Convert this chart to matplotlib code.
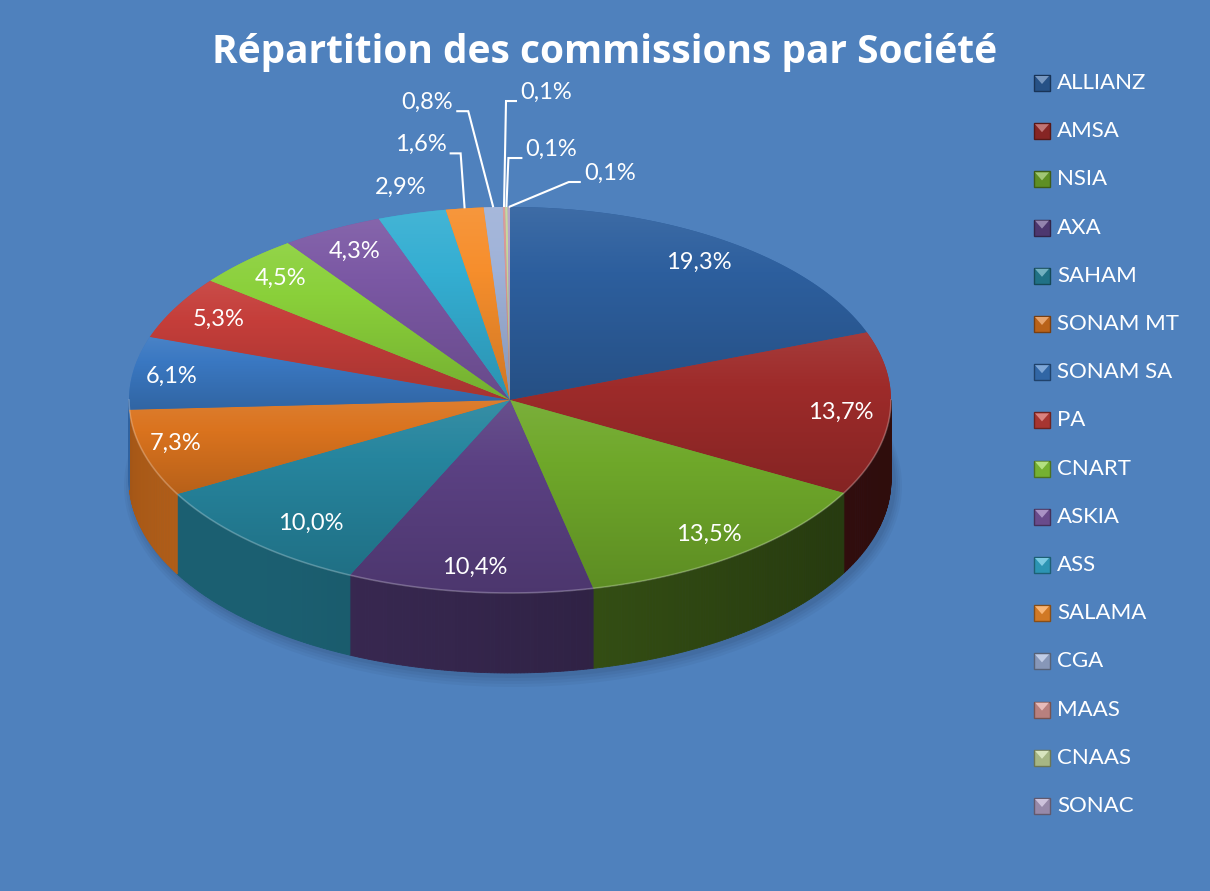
import numpy as np
import matplotlib
matplotlib.use("Agg")
import matplotlib.pyplot as plt
from matplotlib.patches import Polygon, Rectangle, Ellipse
from matplotlib import colors as mcolors

# ---------------- data ----------------
companies = ["ALLIANZ", "AMSA", "NSIA", "AXA", "SAHAM", "SONAM MT", "SONAM SA", "PA",
             "CNART", "ASKIA", "ASS", "SALAMA", "CGA", "MAAS", "CNAAS", "SONAC"]
shares = [19.3, 13.7, 13.5, 10.4, 10.0, 7.3, 6.1, 5.3, 4.5, 4.3, 2.9, 1.6, 0.8, 0.1, 0.1, 0.1]
slice_colors = ["#2D5F9E", "#9E2B2A", "#6FA82A", "#5B4183", "#26859E", "#DA731E",
                "#3A78C2", "#C53E3A", "#8AD03A", "#7B58A4", "#34AED2", "#F68E2C",
                "#9FB2D8", "#D99694", "#C3D69B", "#B2A1C7"]
title = "Répartition des commissions par Société"

# ---------------- layout ----------------
BG = "#4F81BD"
W, H = 1210, 891
CX, CY, A, B, DEPTH = 510, 400, 381, 193, 80
FONT = "Lato"

fig = plt.figure(figsize=(W / 100, H / 100), dpi=100)
fig.patch.set_facecolor(BG)
ax = fig.add_axes([0, 0, 1, 1])
ax.set_facecolor(BG)


def pt(t_deg, r=1.0, dz=0.0):
    t = np.radians(t_deg)
    return CX + A * r * np.cos(t), CY - B * r * np.sin(t) + dz


def shade(c, f):
    rgb = np.array(mcolors.to_rgb(c))
    if f <= 1:
        return tuple(rgb * f)
    return tuple(rgb + (1 - rgb) * (f - 1))


total = sum(shares)
cum = np.concatenate([[0], np.cumsum(shares)])
t_start = 90 - 360 * cum[:-1] / total
t_end = 90 - 360 * cum[1:] / total
t_mid = (t_start + t_end) / 2

# soft shadow under the pie
for k, al in enumerate([0.05, 0.05, 0.06, 0.07]):
    e = Ellipse((CX + 3, CY + DEPTH + 6 - k), 2 * A + 16 - 4 * k, 2 * B + 16 - 4 * k,
                facecolor="#1a2a45", edgecolor="none", alpha=al, zorder=1)
    ax.add_patch(e)

# side (extruded) faces: visible where sin(t) < 0
for i in range(len(shares)):
    ts = np.linspace(t_start[i], t_end[i], max(3, int(abs(t_start[i] - t_end[i]) * 2) + 2))
    for j in range(len(ts) - 1):
        tm = (ts[j] + ts[j + 1]) / 2
        if np.sin(np.radians(tm)) >= 0:
            continue
        f = 0.55 - 0.25 * np.cos(np.radians(tm))
        frac = (ts[j] - t_start[i]) / (t_end[i] - t_start[i]) if t_end[i] != t_start[i] else 0
        f *= 1.05 - 0.12 * frac
        x0, y0 = pt(ts[j])
        x1, y1 = pt(ts[j + 1])
        col = shade(slice_colors[i], f)
        ax.add_patch(Polygon([(x0, y0), (x1, y1), (x1, y1 + DEPTH), (x0, y0 + DEPTH)],
                             closed=True, facecolor=col, edgecolor=col, lw=0.6, zorder=2))

# top faces with vertical gradient
for i in range(len(shares)):
    ts = np.linspace(t_start[i], t_end[i], max(3, int(abs(t_start[i] - t_end[i]) * 2) + 2))
    xs, ys = pt(ts)
    verts = [(CX, CY)] + list(zip(xs, ys))
    poly = Polygon(verts, closed=True, facecolor=slice_colors[i], edgecolor="none", zorder=3)
    ax.add_patch(poly)
    vy = np.array([v[1] for v in verts])
    vx = np.array([v[0] for v in verts])
    y0, y1 = vy.min(), vy.max()
    x0, x1 = vx.min(), vx.max()
    n = 64
    grad = np.array([shade(slice_colors[i], f) for f in np.linspace(1.08, 0.84, n)])
    img = grad.reshape(n, 1, 3)
    im = ax.imshow(img, extent=(x0 - 1, x1 + 1, y1 + 1, y0 - 1), origin="upper",
                   aspect="auto", interpolation="bilinear", zorder=3.1)
    im.set_clip_path(poly)

# light rim along the front top edge
tt = np.linspace(180, 360, 200)
rx, ry = pt(tt)
ax.plot(rx, ry, color="white", alpha=0.25, lw=1.2, zorder=4)

# ---------------- value labels ----------------
label_txt = [f"{v:.1f}".replace(".", ",") + "%" for v in shares]
LBL_SIZE = 17
nudge = {4: (26, 0), 5: (-16, -3), 6: (-10, 0)}
for i in range(len(shares)):
    if shares[i] >= 4:
        x, y = pt(t_mid[i], 0.87)
        dx, dy = nudge.get(i, (0, 0))
        ax.text(x + dx, y + dy, label_txt[i], color="white", fontsize=LBL_SIZE, family=FONT,
                ha="center", va="center", zorder=6)

# outside label for 2.9 %
x, y = pt(t_mid[10], 1.14)
ax.text(x + 3, y, label_txt[10], color="white", fontsize=LBL_SIZE, family=FONT,
        ha="center", va="center", zorder=6)

# leader-line labels for the smallest slices: (elbow dx, elbow dy, tail dx)
leaders = {11: (-4, -55, -11), 12: (-25, -96, -12), 13: (2, -106, 11),
           14: (2, -49, 14), 15: (60, -25, 12)}
for i, (dx, dy, tail) in leaders.items():
    sx, sy = pt(t_mid[i])
    ex, ey = sx + dx, sy + dy
    fx = ex + tail
    ax.plot([sx, ex, fx], [sy, ey, ey], color="white", lw=1.5, zorder=6,
            solid_capstyle="butt", solid_joinstyle="miter")
    ha = "right" if tail < 0 else "left"
    ax.text(fx + (-3 if tail < 0 else 3), ey - 9, label_txt[i], color="white",
            fontsize=LBL_SIZE, family=FONT, ha=ha, va="center", zorder=6)

# ---------------- title ----------------
ax.text(605, 53, title, color="white", fontsize=28, fontweight="bold", family="Open Sans",
        ha="center", va="center", zorder=6)

# ---------------- legend ----------------
LX, LY0, LDY, SW = 1034, 83, 48.2, 16
for i, name in enumerate(companies):
    y = LY0 + i * LDY
    c = slice_colors[i]
    ax.add_patch(Rectangle((LX, y - SW / 2), SW, SW, facecolor=shade(c, 0.85),
                           edgecolor=shade(c, 0.55), lw=1, zorder=6))
    ax.add_patch(Polygon([(LX + 1, y - SW / 2 + 1), (LX + SW - 1, y - SW / 2 + 1),
                          (LX + SW / 2, y + 1)], closed=True,
                         facecolor=shade(c, 1.35), edgecolor="none", zorder=7))
    ax.text(LX + 23, y, name, color="white", fontsize=16, family=FONT,
            ha="left", va="center", zorder=6)

ax.set_xlim(0, W)
ax.set_ylim(H, 0)
ax.axis("off")
fig.savefig("out.png", dpi=100, facecolor=BG)
